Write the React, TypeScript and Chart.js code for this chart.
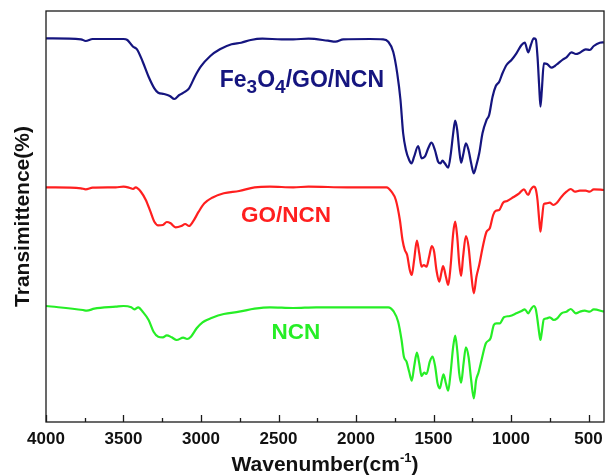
import React, { useEffect, useRef } from "react";
import { Chart, registerables } from "chart.js";
Chart.register(...registerables);

// Axis ticks (wavenumber, cm-1)
const xMajorTicks = [500, 1000, 1500, 2000, 2500, 3000, 3500, 4000];
const xMinorTicks = [750, 1250, 1750, 2250, 2750, 3250, 3750];

// Series names
const seriesNames = ["Fe3O4/GO/NCN", "GO/NCN", "NCN"];

// Fe3O4/GO/NCN (offset transmittance, a.u.)
const feWn = [4000, 3774, 3744, 3699, 3500, 3475, 3438, 3413, 3376, 3338, 3301, 3276, 3239, 3201, 3172, 3140, 3102, 3077, 3040, 3002, 2940, 2878, 2803, 2741, 2679, 2604, 2480, 2405, 2306, 2181, 2132, 2082, 1910, 1825, 1792, 1760, 1734, 1713, 1696, 1678, 1657, 1642, 1625, 1599, 1577, 1556, 1534, 1513, 1491, 1470, 1455, 1442, 1427, 1405, 1388, 1373, 1360, 1347, 1334, 1322, 1309, 1291, 1274, 1257, 1240, 1223, 1205, 1184, 1158, 1141, 1119, 1098, 1076, 1055, 1029, 997, 965, 932, 911, 889, 872, 853, 840, 829, 818, 810, 801, 788, 767, 739, 717, 696, 664, 642, 610, 582, 556, 518, 492, 466, 427, 401];
const feT = [383.7, 382.7, 381, 383, 383, 382, 375.3, 372.7, 360.3, 345.3, 333.7, 329.3, 328, 326, 323, 327, 330.3, 333.7, 345.3, 355.3, 366, 372.7, 377.7, 379.3, 382, 383.3, 382.7, 382.7, 383.3, 381.3, 380.3, 382.7, 383, 382.7, 380.3, 370.3, 348.7, 322, 289, 272, 262, 258.7, 265.3, 276, 263.7, 265.3, 273.7, 279.3, 272, 260.3, 258.7, 261.3, 258.7, 254.3, 268.7, 288.7, 301.3, 292, 272, 259.3, 267, 278.7, 272, 258.7, 248.7, 257, 268.7, 288.7, 302, 307, 325.3, 336, 340.3, 348.7, 357, 362, 368.7, 377, 379.3, 369.7, 377, 383.7, 382.7, 365.3, 335.3, 315.3, 332, 358.7, 358, 354.3, 356, 358.7, 362.7, 364.7, 369.7, 368, 369.3, 372.7, 372, 376, 379.3, 379.7];

// GO/NCN
const goWn = [4000, 3774, 3744, 3699, 3550, 3500, 3463, 3438, 3421, 3388, 3356, 3326, 3301, 3276, 3246, 3221, 3196, 3164, 3127, 3102, 3077, 3052, 3015, 2978, 2928, 2853, 2754, 2654, 2555, 2405, 2306, 2057, 1910, 1803, 1771, 1743, 1717, 1700, 1685, 1670, 1653, 1640, 1625, 1607, 1592, 1577, 1562, 1545, 1528, 1511, 1496, 1481, 1463, 1448, 1438, 1420, 1405, 1390, 1373, 1360, 1347, 1334, 1322, 1309, 1291, 1274, 1257, 1240, 1223, 1205, 1184, 1158, 1137, 1115, 1098, 1076, 1051, 1025, 986, 947, 917, 889, 874, 853, 840, 829, 818, 810, 801, 788, 771, 750, 728, 707, 674, 642, 614, 589, 556, 518, 492, 466, 401];
const goT = [234.7, 233.7, 232.7, 234.3, 234.7, 235.3, 234.3, 233, 234.7, 230.3, 222, 210.3, 200.3, 196.7, 197, 200, 198.7, 194.7, 196, 198, 196, 200.3, 210.3, 218.7, 224.3, 228.7, 231, 234.7, 235.3, 234.7, 235.3, 234.7, 234.7, 234.7, 230.3, 222, 202, 182, 172, 167, 152, 147, 162, 181.3, 168.7, 155.3, 157, 155.3, 165.3, 176, 170.3, 152, 140.3, 150.3, 156, 145.3, 137, 155.3, 188.7, 200.3, 185.3, 158.7, 146, 165.3, 186, 175.3, 148.7, 128.7, 145.3, 157, 173.7, 190.3, 193.7, 207, 211.3, 212, 219.3, 221, 224.7, 228.7, 232.7, 227, 232, 235.3, 232.7, 222, 202, 190.3, 202, 218, 218.7, 219.3, 217, 218.7, 225.3, 230.3, 233, 230.3, 231.3, 231.3, 230.3, 232.7, 232];

// NCN
const ncnWn = [4000, 3762, 3737, 3688, 3550, 3500, 3450, 3430, 3405, 3376, 3338, 3306, 3276, 3246, 3221, 3189, 3157, 3115, 3090, 3065, 3028, 2990, 2928, 2853, 2754, 2654, 2555, 2405, 2257, 2057, 1910, 1792, 1756, 1728, 1706, 1691, 1674, 1657, 1640, 1625, 1607, 1592, 1577, 1560, 1545, 1524, 1506, 1489, 1474, 1459, 1446, 1435, 1420, 1405, 1390, 1373, 1360, 1347, 1334, 1322, 1306, 1291, 1274, 1257, 1240, 1225, 1210, 1190, 1162, 1132, 1111, 1094, 1072, 1046, 1008, 965, 932, 911, 889, 872, 853, 840, 829, 818, 810, 801, 788, 767, 750, 724, 702, 674, 642, 614, 582, 556, 524, 492, 466, 401];
const ncnT = [116, 112, 111.3, 113.3, 115.3, 116, 114.7, 112.7, 114.7, 110.3, 102, 90.3, 85.3, 84.7, 86.7, 84.7, 82, 84.3, 83, 85.3, 93.7, 99.7, 104.3, 108, 110.3, 113.3, 114.7, 114, 114.7, 114.7, 114.7, 114.7, 110.3, 100.3, 82, 65.3, 60.3, 50.3, 41.3, 55.3, 69.3, 58.7, 46, 49.3, 48, 60.3, 65.3, 55.3, 38.7, 33.7, 42, 47.7, 38.7, 31.3, 48.7, 75.3, 86.3, 72, 48.7, 39.3, 58.7, 74.7, 65.3, 42, 23.7, 42, 49.3, 62, 78.7, 83.7, 97, 98.7, 98.7, 104.7, 106, 108.7, 111, 112.7, 108.7, 112.7, 116, 112.7, 102, 88.7, 82, 90.3, 102.7, 103.7, 104.7, 102, 103.7, 108.7, 110.3, 113, 108.7, 110.3, 111.3, 110.3, 112.7, 110.3];

const FONT = "'Liberation Sans', Arial, Helvetica, sans-serif";
const colors = ["#15157f", "#ff1f1f", "#26ee26"];

type Part = { t: string; size: number; dy: number };

function drawRich(ctx: CanvasRenderingContext2D, parts: Part[], cx: number, by: number, color: string) {
  let total = 0;
  const widths = parts.map((p) => {
    ctx.font = `bold ${p.size}px ${FONT}`;
    const w = ctx.measureText(p.t).width;
    total += w;
    return w;
  });
  let x = cx - total / 2;
  ctx.fillStyle = color;
  ctx.textAlign = "left";
  ctx.textBaseline = "alphabetic";
  parts.forEach((p, i) => {
    ctx.font = `bold ${p.size}px ${FONT}`;
    ctx.fillText(p.t, x, by + p.dy);
    x += widths[i];
  });
}

const decorPlugin = {
  id: "decor",
  afterDraw(chart: any) {
    const { ctx, chartArea } = chart;
    const xs = chart.scales.x;
    const ys = chart.scales.y;
    ctx.save();
    // frame
    ctx.strokeStyle = "#1a1a1a";
    ctx.lineWidth = 1.3;
    ctx.strokeRect(chartArea.left, chartArea.top, chartArea.right - chartArea.left, chartArea.bottom - chartArea.top);
    // inward ticks
    ctx.beginPath();
    xMajorTicks.forEach((v) => {
      const px = Math.round(xs.getPixelForValue(v)) + 0.5;
      ctx.moveTo(px, chartArea.bottom);
      ctx.lineTo(px, chartArea.bottom - 7);
    });
    xMinorTicks.forEach((v) => {
      const px = Math.round(xs.getPixelForValue(v)) + 0.5;
      ctx.moveTo(px, chartArea.bottom);
      ctx.lineTo(px, chartArea.bottom - 4);
    });
    ctx.stroke();

    // series labels
    drawRich(
      ctx,
      [
        { t: "Fe", size: 23, dy: 0 },
        { t: "3", size: 19, dy: 6 },
        { t: "O", size: 23, dy: 0 },
        { t: "4", size: 19, dy: 6 },
        { t: "/GO/NCN", size: 23, dy: 0 },
      ],
      xs.getPixelForValue(2349),
      ys.getPixelForValue(335),
      colors[0]
    );
    drawRich(ctx, [{ t: "GO/NCN", size: 22.5, dy: 0 }], xs.getPixelForValue(2452), ys.getPixelForValue(200.5), colors[1]);
    drawRich(ctx, [{ t: "NCN", size: 22.5, dy: 0 }], xs.getPixelForValue(2388), ys.getPixelForValue(83), colors[2]);

    // x title
    const cx = (chartArea.left + chartArea.right) / 2;
    drawRich(
      ctx,
      [
        { t: "Wavenumber(cm", size: 21, dy: 0 },
        { t: "-1", size: 13, dy: -9 },
        { t: ")", size: 21, dy: 0 },
      ],
      cx,
      471,
      "#111"
    );

    // y title
    ctx.translate(23, (chartArea.top + chartArea.bottom) / 2);
    ctx.rotate(-Math.PI / 2);
    ctx.font = `bold 21px ${FONT}`;
    ctx.fillStyle = "#111";
    ctx.textAlign = "center";
    ctx.textBaseline = "middle";
    ctx.fillText("Transimittence(%)", 0, 0);
    ctx.restore();
  },
};

export default function App() {
  const ref = useRef<HTMLCanvasElement>(null);
  useEffect(() => {
    document.body.style.margin = "0";
    const toPts = (xs: number[], ys: number[]) => xs.map((x, i) => ({ x, y: ys[i] }));
    const chart = new Chart(ref.current!, {
      type: "line",
      data: {
        datasets: [
          { label: seriesNames[0], data: toPts(feWn, feT), borderColor: colors[0] },
          { label: seriesNames[1], data: toPts(goWn, goT), borderColor: colors[1] },
          { label: seriesNames[2], data: toPts(ncnWn, ncnT), borderColor: colors[2] },
        ].map((d) => ({
          ...d,
          borderWidth: 2.2,
          pointRadius: 0,
          fill: false,
          cubicInterpolationMode: "monotone" as const,
        })),
      },
      options: {
        responsive: false,
        animation: false,
        devicePixelRatio: 1,
        layout: { padding: { left: 46, right: 1, top: 11, bottom: 0 } },
        plugins: { legend: { display: false }, tooltip: { enabled: false } },
        scales: {
          x: {
            type: "linear",
            reverse: true,
            min: 400,
            max: 4000,
            grid: { display: false, drawTicks: false },
            border: { display: false },
            afterBuildTicks: (scale: any) => {
              scale.ticks = xMajorTicks.map((v) => ({ value: v }));
            },
            afterFit: (scale: any) => {
              scale.height = 53;
            },
            ticks: {
              padding: 7,
              maxRotation: 0,
              autoSkip: false,
              color: "#111",
              font: { family: FONT, size: 17, weight: "bold" },
              callback: (v: any) => String(v),
            },
          },
          y: {
            display: false,
            min: 0,
            max: 411,
          },
        },
      },
      plugins: [decorPlugin],
    });
    return () => chart.destroy();
  }, []);
  return <canvas ref={ref} width={605} height={475} style={{ display: "block" }} />;
}
